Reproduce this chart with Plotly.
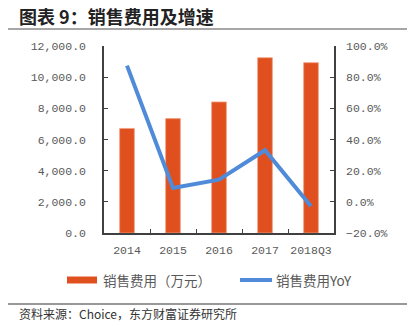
import plotly.graph_objects as go

# Sales expenses and YoY growth
periods = ["2014", "2015", "2016", "2017", "2018Q3"]
sales_expense = [6710, 7340, 8410, 11250, 10930]      # 万元
sales_yoy = [87.4, 8.9, 14.2, 33.1, -2.9]             # %
bar_name = "销售费用（万元）"
line_name = "销售费用YoY"

bar_color = "#E0501E"
line_color = "#4F8BD8"
text_color = "#595959"
axis_color = "#404040"
num_font = "Liberation Mono"
cjk_font = "Noto Sans CJK SC"

# plot area in pixels
W, H = 420, 326
L, R, T, B = 104, 86, 46, 93
PW, PH = W - L - R, H - T - B


def px(x):
    return (x - L) / PW


def py(y):
    return (H - B - y) / PH


fig = go.Figure()

fig.add_trace(go.Bar(
    x=periods, y=sales_expense, name=bar_name,
    marker=dict(color=bar_color, line=dict(color="#F2A080", width=0.8)),
    width=0.32, yaxis="y",
))
fig.add_trace(go.Scatter(
    x=periods, y=sales_yoy, mode="lines", name=line_name,
    line=dict(color=line_color, width=4), yaxis="y2",
))

fig.update_layout(
    width=W, height=H,
    margin=dict(l=L, r=R, t=T, b=B),
    paper_bgcolor="white", plot_bgcolor="white",
    showlegend=False,
    xaxis=dict(
        type="category", showline=True, linecolor=axis_color, linewidth=1.5,
        ticks="inside", ticklen=4, tickcolor=axis_color, tickson="boundaries",
        tickangle=0, automargin=False, ticklabelstandoff=5,
        tickfont=dict(family=num_font, size=11.5, color=text_color),
        showgrid=False, zeroline=False,
    ),
    yaxis=dict(
        range=[0, 12000], dtick=2000, tickformat=",.1f",
        showline=True, linecolor=axis_color, linewidth=1.5,
        ticks="inside", ticklen=4, tickcolor=axis_color,
        ticklabelstandoff=14, automargin=False,
        tickfont=dict(family=num_font, size=11.5, color=text_color),
        showgrid=False, zeroline=False,
    ),
    yaxis2=dict(
        range=[-20, 100], dtick=20, tickformat=".1f", ticksuffix="%",
        overlaying="y", side="right",
        showline=True, linecolor=axis_color, linewidth=1.5,
        ticks="inside", ticklen=4, tickcolor=axis_color,
        ticklabelstandoff=8, automargin=False,
        tickfont=dict(family=num_font, size=11.5, color=text_color),
        showgrid=False, zeroline=False,
    ),
    bargap=0.68,
)

# legend below the plot
fig.add_shape(type="rect", xref="paper", yref="paper",
              x0=px(67), x1=px(97), y0=py(283.5), y1=py(276.5),
              fillcolor=bar_color, line=dict(width=0))
fig.add_annotation(text=bar_name, xref="paper", yref="paper",
                   x=px(101), y=py(280), xanchor="left", yanchor="middle",
                   showarrow=False,
                   font=dict(family=cjk_font, size=13.5, color=text_color))
fig.add_shape(type="line", xref="paper", yref="paper",
              x0=px(240), x1=px(272), y0=py(280), y1=py(280),
              line=dict(color=line_color, width=4))
fig.add_annotation(text=line_name, xref="paper", yref="paper",
                   x=px(274), y=py(280), xanchor="left", yanchor="middle",
                   showarrow=False,
                   font=dict(family=cjk_font, size=13.5, color=text_color))

# title, rules and source note
fig.add_annotation(
    text="<b>图表 9：销售费用及增速</b>", xref="paper", yref="paper",
    x=px(17), y=py(16), xanchor="left", yanchor="middle",
    showarrow=False, font=dict(family=cjk_font, size=18, color="#222222"),
)
fig.add_shape(type="line", xref="paper", yref="paper",
              x0=px(8), x1=px(407), y0=py(29), y1=py(29),
              line=dict(color="#A6A6A6", width=2))
fig.add_shape(type="line", xref="paper", yref="paper",
              x0=px(8), x1=px(407), y0=py(304), y1=py(304),
              line=dict(color="#333333", width=1.2))
fig.add_annotation(
    text="资料来源：Choice，东方财富证券研究所", xref="paper", yref="paper",
    x=px(17), y=py(313), xanchor="left", yanchor="middle",
    showarrow=False, font=dict(family=cjk_font, size=12, color="#333333"),
)

fig.write_html("out.html")
